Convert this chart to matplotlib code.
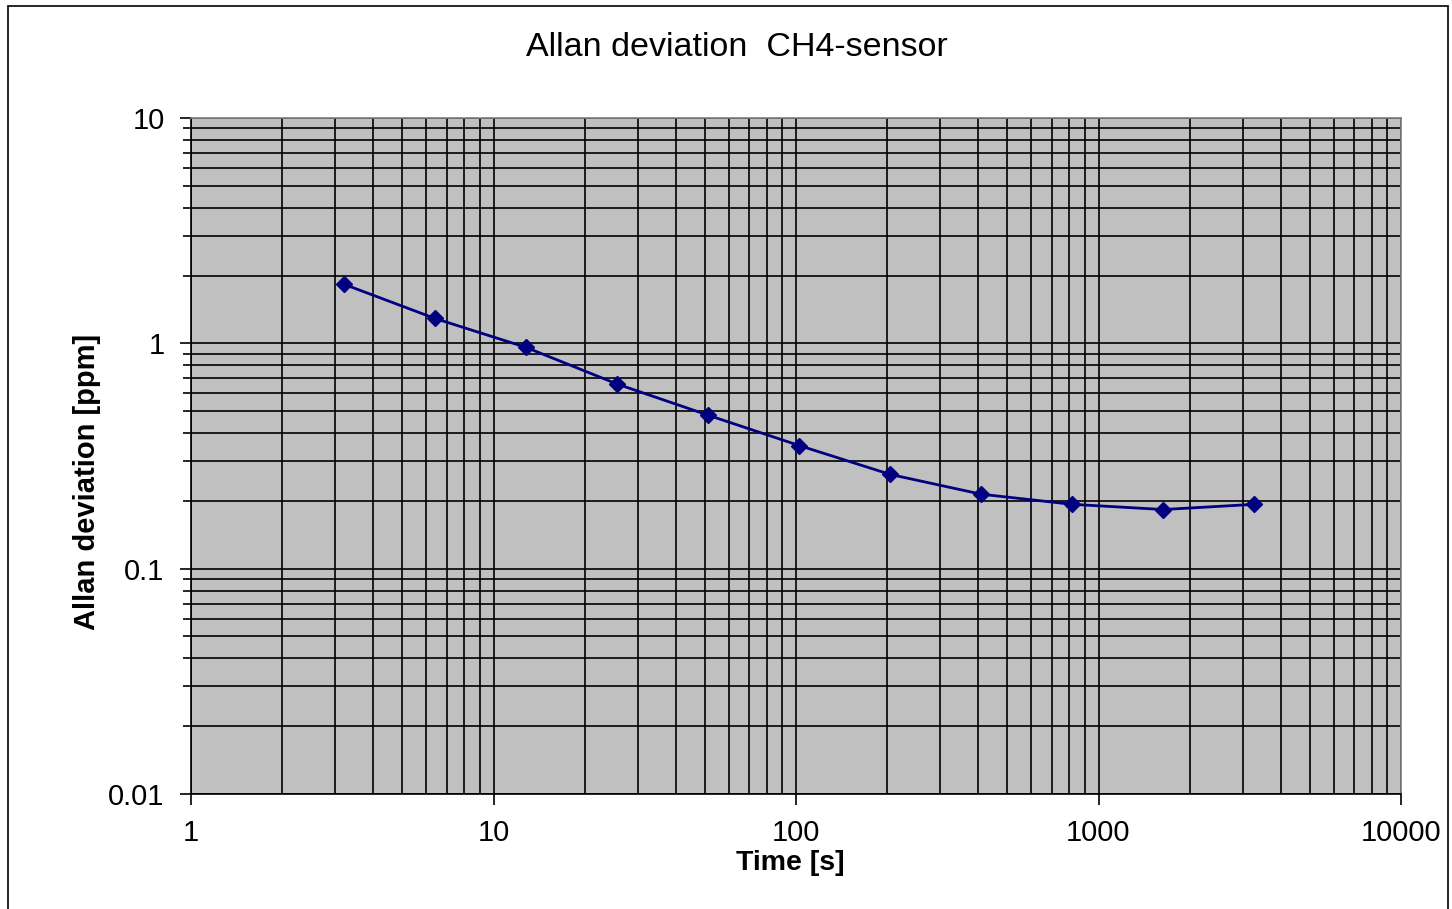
import matplotlib.pyplot as plt
from matplotlib.ticker import LogLocator, NullFormatter, FixedLocator, FixedFormatter
from matplotlib.patches import Rectangle

# averaging time [s] and Allan deviation [ppm]
tau = [3.2, 6.4, 12.8, 25.6, 51.2, 102.4, 204.8, 409.6, 819.2, 1638.4, 3276.8]
adev = [1.83, 1.29, 0.96, 0.66, 0.48, 0.352, 0.262, 0.214, 0.193, 0.183, 0.193]

xticks = [1, 10, 100, 1000, 10000]
xlabels = ['1', '10', '100', '1000', '10000']
yticks = [0.01, 0.1, 1, 10]
ylabels = ['0.01', '0.1', '1', '10']

plt.rcParams['font.family'] = ['Liberation Sans', 'DejaVu Sans']

fig = plt.figure(figsize=(14.52, 9.09), dpi=100)
# outer chart frame
fig.patches.append(Rectangle((8 / 1452, -0.01), 1440 / 1452, 1 - 6 / 909 + 0.01,
                             transform=fig.transFigure, fill=False,
                             edgecolor='black', linewidth=1.2))

ax = fig.add_axes([191 / 1452, 1 - 794 / 909, 1210 / 1452, 676 / 909])
ax.set_facecolor('#c0c0c0')
ax.set_xscale('log')
ax.set_yscale('log')
ax.set_xlim(1, 10000)
ax.set_ylim(0.01, 10)

ax.plot(tau, adev, color='#000080', linewidth=2, marker='D', markersize=8,
        zorder=3)

ax.xaxis.set_major_locator(FixedLocator(xticks))
ax.xaxis.set_major_formatter(FixedFormatter(xlabels))
ax.yaxis.set_major_locator(FixedLocator(yticks))
ax.yaxis.set_major_formatter(FixedFormatter(ylabels))
ax.xaxis.set_minor_locator(LogLocator(base=10, subs=range(2, 10)))
ax.yaxis.set_minor_locator(LogLocator(base=10, subs=range(2, 10)))
ax.xaxis.set_minor_formatter(NullFormatter())
ax.yaxis.set_minor_formatter(NullFormatter())

ax.grid(True, which='both', color='black', linewidth=1.2)
ax.set_axisbelow(True)

ax.tick_params(axis='both', which='major', labelsize=21, length=8, width=1.2,
               direction='out')
ax.tick_params(axis='y', which='major', pad=11)
ax.tick_params(axis='x', which='major', pad=10)
ax.tick_params(axis='y', which='minor', length=6, width=1.2, direction='out')
ax.tick_params(axis='x', which='minor', length=0)

for side in ['left', 'bottom']:
    ax.spines[side].set_color('black')
    ax.spines[side].set_linewidth(1.2)
for side in ['top', 'right']:
    ax.spines[side].set_color('#808080')
    ax.spines[side].set_linewidth(1.2)

ax.set_xlabel('Time [s]', fontsize=20.5, fontweight='bold')
ax.set_ylabel('Allan deviation [ppm]', fontsize=21, fontweight='bold')
ax.xaxis.set_label_coords(0.495, -0.083)
ax.yaxis.set_label_coords(-0.074, 0.462)

fig.text(737 / 1452, 1 - 47 / 909, 'Allan deviation  CH4-sensor', fontsize=24.5,
         ha='center', va='center')

fig.savefig('out.png', dpi=100)
